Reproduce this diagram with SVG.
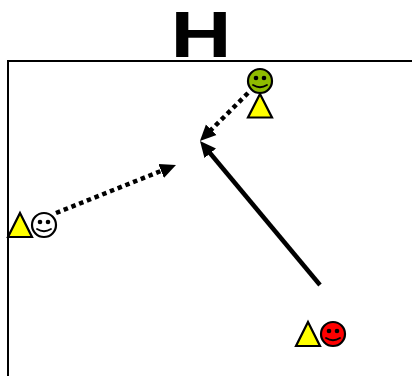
<svg xmlns="http://www.w3.org/2000/svg" width="412" height="376" viewBox="0 0 412 376">
<style>
.tri{fill:#ff0;stroke:#000;stroke-width:2.200;stroke-linejoin:miter}
.head{stroke:#000;stroke-width:2.200}
.eye{fill:#000}
.smile{fill:none;stroke:#000;stroke-width:1.800;stroke-linecap:round}
.line{fill:none;stroke:#000;stroke-width:4.500}
.dot{stroke-dasharray:4.500 3.800}
.title{font-family:"Liberation Sans",Arial,sans-serif;font-weight:bold;font-size:65px}
</style>
<defs>
<marker id="a" markerUnits="userSpaceOnUse" markerWidth="18" markerHeight="16" refX="6" refY="8" orient="auto"><path d="M0 0.500L16 8L0 15.500Z" fill="#000"/></marker>
<g id="face"><path class="smile" d="M-7 4Q0 8.500 7 4"/><circle class="eye" cx="-4" cy="-3" r="2.300"/><circle class="eye" cx="4" cy="-3" r="2.300"/></g>
</defs>
<rect width="412" height="376" fill="#fff"/>
<g id="frame"><path d="M412 61H8V376" fill="none" stroke="#000" stroke-width="2"/></g>
<text id="title" class="title" transform="translate(170.500 57) scale(1.3 1)">H</text>
<g id="connectors">
<path class="line dot" d="M248 93L207 134" marker-end="url(#a)"/>
<path class="line" d="M320 285L206.400 148.700" marker-end="url(#a)"/>
<path class="line dot" d="M56 213L166.700 168.700" marker-end="url(#a)"/>
</g>
<g id="node-green"><circle class="head" cx="260" cy="81" r="12" fill="#8fbc00"/><use href="#face" x="260" y="81"/><path class="tri" d="M260 94L272 117.500H248Z"/></g>
<g id="node-white"><path class="tri" d="M20 213L32 237H8Z"/><circle class="head" cx="44" cy="225" r="12" fill="#fff"/><use href="#face" x="44" y="225"/></g>
<g id="node-red"><path class="tri" d="M308 322L320 346H296Z"/><circle class="head" cx="333" cy="334" r="12" fill="#f00"/><use href="#face" x="333" y="334"/></g>
</svg>
